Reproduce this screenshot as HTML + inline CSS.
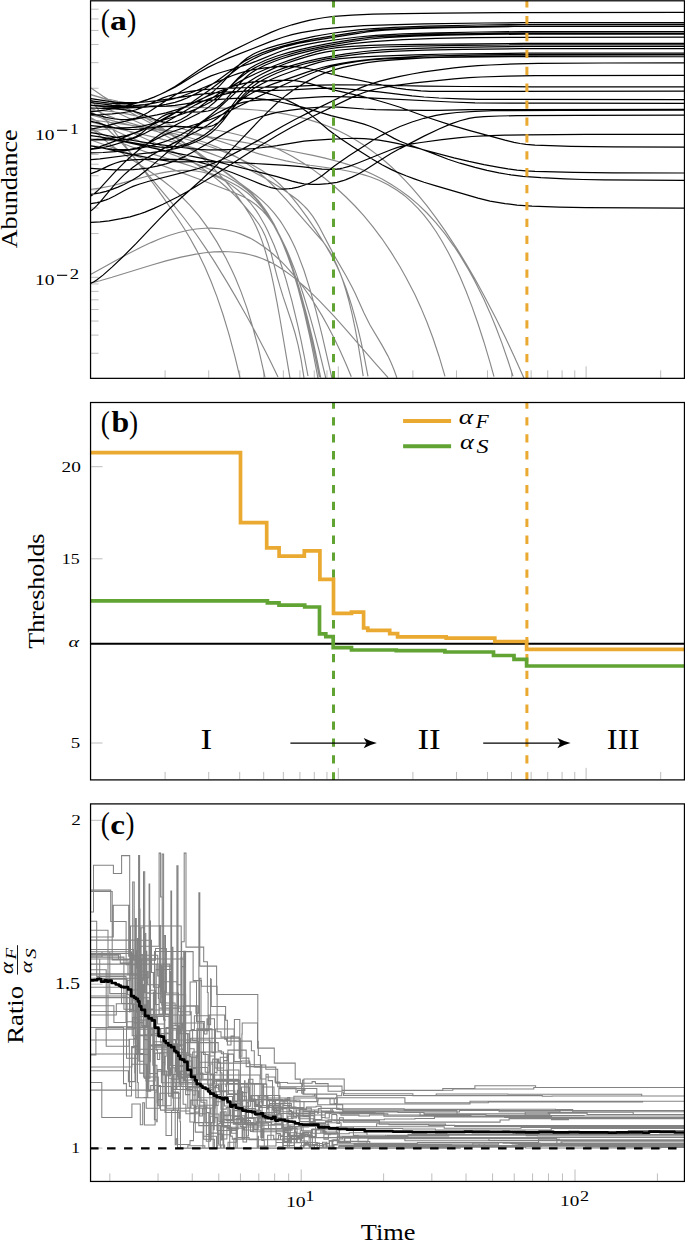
<!DOCTYPE html>
<html><head><meta charset="utf-8"><style>html,body{margin:0;padding:0;background:#fff;}svg{display:block;}</style></head>
<body><svg width="685" height="1241" viewBox="0 0 685 1241">
<rect width="685" height="1241" fill="#fff"/>
<g id="pa">
<path d="M91.15 132.00H98.55 M91.15 277.30H98.55 M91.15 353.27H98.55 M91.15 335.12H98.55 M91.15 321.04H98.55 M91.15 309.53H98.55 M91.15 299.81H98.55 M91.15 291.38H98.55 M91.15 283.95H98.55 M91.15 233.56H98.55 M91.15 207.97H98.55 M91.15 189.82H98.55 M91.15 175.74H98.55 M91.15 164.23H98.55 M91.15 154.51H98.55 M91.15 146.08H98.55 M91.15 138.65H98.55 M91.15 88.26H98.55 M91.15 62.67H98.55 M91.15 44.52H98.55 M91.15 30.44H98.55 M91.15 18.93H98.55 M91.15 9.21H98.55" stroke="#b5b5b5" stroke-width="0.9" fill="none"/>
<path d="M165.10 377.75V370.35 M208.73 377.75V370.35 M239.69 377.75V370.35 M263.70 377.75V370.35 M283.33 377.75V370.35 M299.92 377.75V370.35 M314.29 377.75V370.35 M326.96 377.75V370.35 M338.30 377.75V366.35 M412.90 377.75V370.35 M456.53 377.75V370.35 M487.49 377.75V370.35 M511.50 377.75V370.35 M531.13 377.75V370.35 M547.72 377.75V370.35 M562.09 377.75V370.35 M574.76 377.75V370.35 M586.10 377.75V366.35 M660.70 377.75V370.35" stroke="#b5b5b5" stroke-width="0.9" fill="none"/>
<clipPath id="ca"><rect x="90.5" y="0.8" width="593.9" height="377.6"/></clipPath>
<g clip-path="url(#ca)">
<path d="M91.0 117.9L94.0 119.5 100.0 123.3 103.0 125.5 109.0 130.5 118.0 139.2 124.0 145.7 130.0 152.7 136.0 160.1 145.0 172.0 163.0 197.1 178.0 219.0 184.0 228.3 190.0 238.3 196.0 249.1 199.0 254.8 205.0 267.3 211.0 281.2 217.0 296.9 223.0 314.5 229.0 334.4 235.0 356.8 240.0 377.6 M91.0 127.6L100.0 136.0 106.0 141.1 112.0 145.8 124.0 154.3 154.0 174.2 163.0 180.8 172.0 187.9 181.0 196.0 190.0 205.3 199.0 215.9 208.0 228.1 217.0 242.1 226.0 258.3 232.0 270.4 235.0 277.0 241.0 291.6 247.0 308.4 253.0 328.0 259.0 350.9 265.0 377.4 M91.0 99.7L109.0 124.4 127.0 148.2 145.0 170.9 172.0 203.1 184.0 218.0 196.0 234.0 205.0 247.1 214.0 260.9 226.0 280.4 235.0 295.6 247.0 316.7 256.0 333.2 265.0 350.4 271.0 362.4 278.0 377.1 M91.0 111.9L103.0 118.8 115.0 124.9 127.0 130.5 160.0 145.2 175.0 152.4 187.0 158.8 199.0 166.1 208.0 172.3 214.0 176.9 220.0 181.8 226.0 187.0 235.0 195.7 241.0 202.0 247.0 208.8 253.0 216.1 259.0 224.2 262.0 229.2 265.0 235.4 268.0 243.2 271.0 253.1 277.0 276.1 280.0 286.7 283.0 296.4 292.0 323.3 295.0 333.0 298.0 344.6 301.0 359.2 304.0 377.8 M91.0 102.0L121.0 114.5 145.0 125.4 157.0 131.2 169.0 137.4 181.0 143.9 190.0 149.1 202.0 156.4 214.0 164.1 223.0 170.3 232.0 176.8 241.0 183.9 247.0 189.0 253.0 194.7 259.0 201.4 265.0 209.3 268.0 213.8 274.0 224.1 277.0 230.0 283.0 243.5 286.0 251.1 292.0 268.2 298.0 288.2 304.0 311.2 310.0 337.6 313.0 352.1 318.0 378.4 M91.0 117.7L100.0 122.8 109.0 127.5 118.0 131.9 130.0 137.4 151.0 146.1 199.0 164.8 214.0 171.1 226.0 176.6 235.0 181.5 241.0 185.4 247.0 190.1 250.0 192.7 256.0 198.8 262.0 206.2 265.0 210.3 271.0 219.8 274.0 225.2 280.0 237.2 283.0 244.0 289.0 259.2 295.0 276.7 298.0 286.4 304.0 307.9 310.0 332.4 313.0 345.8 319.4 377.1 M91.0 127.8L100.0 132.9 109.0 137.4 118.0 141.5 130.0 146.3 148.0 152.6 181.0 162.9 196.0 167.8 208.0 172.2 220.0 177.1 232.0 182.9 238.0 186.2 241.0 188.2 247.0 192.5 250.0 195.0 256.0 200.8 262.0 207.7 265.0 211.6 271.0 220.6 274.0 225.7 280.0 237.2 283.0 243.6 289.0 258.1 292.0 266.2 298.0 284.1 301.0 294.1 307.0 316.1 313.0 341.0 316.0 354.7 320.7 377.7 M91.0 140.0L130.0 153.8 166.0 166.9 202.0 180.3 235.0 193.0 244.0 197.1 250.0 200.5 256.0 204.8 262.0 210.2 265.0 213.5 268.0 217.1 271.0 221.1 274.0 225.6 277.0 230.5 280.0 236.0 286.0 248.3 289.0 255.2 295.0 270.4 301.0 287.5 304.0 296.8 310.0 316.7 313.0 327.4 319.0 350.1 326.0 379.0 M91.0 94.9L100.0 97.4 109.0 100.5 118.0 104.1 127.0 108.2 136.0 112.7 145.0 117.6 154.0 122.9 166.0 130.4 181.0 140.5 196.0 151.0 250.0 190.5 256.0 195.2 262.0 200.4 268.0 206.2 274.0 212.9 280.0 220.7 283.0 225.2 289.0 235.4 292.0 241.2 295.0 247.6 298.0 254.6 304.0 270.5 310.0 289.3 316.0 310.9 322.0 334.8 332.0 378.4 M91.0 274.2L124.0 255.9 142.0 246.8 151.0 242.6 160.0 238.8 169.0 235.5 178.0 232.7 187.0 230.5 196.0 229.0 205.0 228.3 211.0 228.2 220.0 228.8 226.0 229.8 235.0 232.0 241.0 234.1 250.0 238.1 256.0 241.5 265.0 247.5 271.0 252.2 280.0 260.2 286.0 266.3 295.0 276.5 301.0 284.0 310.0 296.5 316.0 305.7 322.0 315.6 328.0 326.4 334.0 338.0 340.0 350.5 346.0 364.0 351.3 376.8 M91.0 282.9L100.0 280.7 112.0 277.3 151.0 265.3 166.0 260.9 181.0 257.1 196.0 254.1 205.0 252.8 214.0 251.9 223.0 251.6 229.0 251.7 238.0 252.5 244.0 253.4 250.0 254.7 256.0 256.4 262.0 258.5 268.0 261.1 274.0 264.1 280.0 267.7 286.0 271.7 292.0 276.1 298.0 280.9 307.0 288.7 319.0 300.3 334.0 316.2 346.0 329.6 376.0 364.1 388.1 377.7 M91.0 108.0L97.0 111.0 106.0 114.9 115.0 118.3 124.0 121.3 133.0 123.9 142.0 126.2 175.0 133.9 190.0 137.8 205.0 142.5 217.0 147.1 226.0 151.3 232.0 154.4 238.0 157.8 244.0 161.6 253.0 167.9 259.0 172.7 265.0 177.8 271.0 183.5 277.0 189.6 286.0 199.4 322.0 240.5 325.0 244.4 328.0 248.7 331.0 253.5 334.0 259.1 337.0 265.4 340.0 272.7 343.0 281.0 346.0 290.5 349.0 301.3 352.0 313.7 355.0 327.8 358.0 343.7 361.0 361.6 363.2 376.2 M91.0 115.0L115.0 121.4 160.0 132.2 178.0 136.8 196.0 142.0 214.0 148.0 226.0 152.6 235.0 156.5 247.0 162.2 256.0 166.9 262.0 170.5 268.0 174.5 274.0 179.1 280.0 184.5 286.0 190.6 292.0 197.4 298.0 204.9 307.0 217.2 316.0 230.4 325.0 244.5 331.0 254.7 337.0 266.5 340.0 273.1 343.0 280.4 346.0 288.3 349.0 297.1 352.0 306.7 355.0 317.3 358.0 328.9 361.0 341.7 364.0 355.6 368.0 376.3 M91.0 122.0L112.0 127.3 157.0 137.9 175.0 142.6 187.0 145.9 199.0 149.6 211.0 153.6 220.0 157.0 232.0 161.8 241.0 165.8 253.0 171.7 262.0 176.5 271.0 181.7 280.0 187.4 292.0 195.7 298.0 200.3 304.0 205.8 307.0 209.0 310.0 212.7 313.0 216.7 316.0 221.4 319.0 226.5 334.0 255.1 346.0 275.7 352.0 286.9 355.0 293.1 364.0 313.0 370.0 325.0 382.0 345.1 388.0 356.1 391.0 362.6 394.0 369.8 396.9 377.8 M91.0 130.4L118.0 128.4 136.0 127.2 151.0 126.6 166.0 126.4 181.0 126.7 193.0 127.4 208.0 129.0 220.0 130.8 232.0 133.2 244.0 136.3 256.0 140.1 268.0 144.7 280.0 150.0 292.0 156.3 304.0 163.5 313.0 169.6 325.0 178.5 334.0 186.0 346.0 197.0 355.0 206.0 364.0 215.9 373.0 226.8 382.0 238.8 391.0 252.1 400.0 266.7 406.0 277.4 415.0 294.8 421.0 307.9 427.0 322.3 433.0 338.3 439.0 356.2 445.0 376.3 M91.0 110.0L103.0 110.7 115.0 112.0 127.0 113.9 142.0 117.1 157.0 121.0 175.0 126.3 193.0 132.1 244.0 149.2 259.0 153.9 274.0 158.0 286.0 160.9 298.0 163.3 310.0 165.3 340.0 169.5 349.0 171.2 358.0 173.2 364.0 174.9 370.0 176.8 379.0 180.3 388.0 184.7 397.0 190.2 403.0 194.5 406.0 196.9 412.0 202.3 418.0 208.3 424.0 215.2 430.0 222.9 436.0 231.5 442.0 241.2 448.0 251.9 454.0 263.7 460.0 276.7 466.0 291.0 472.0 306.6 478.0 323.7 484.0 342.2 490.0 362.3 494.0 376.7 M91.0 119.8L157.0 128.9 214.0 137.5 241.0 141.9 265.0 146.1 292.0 151.2 313.0 155.4 325.0 158.1 337.0 161.2 346.0 163.9 355.0 166.9 364.0 170.4 373.0 174.4 382.0 179.0 391.0 184.2 400.0 190.1 409.0 196.8 418.0 204.4 427.0 213.0 436.0 222.8 445.0 233.8 454.0 246.3 460.0 255.4 469.0 270.4 475.0 281.4 484.0 299.5 490.0 312.9 496.0 327.5 502.0 343.4 508.0 360.7 513.0 376.3 M91.0 94.6L103.0 98.0 118.0 101.2 130.0 103.2 145.0 105.0 157.0 106.0 172.0 106.8 223.0 108.1 244.0 109.1 256.0 110.0 265.0 110.9 277.0 112.6 286.0 114.1 298.0 116.7 307.0 119.1 319.0 122.9 328.0 126.3 337.0 130.1 346.0 134.6 355.0 139.6 364.0 145.3 370.0 149.5 376.0 153.9 385.0 161.2 391.0 166.5 397.0 172.2 406.0 181.4 412.0 187.9 418.0 194.8 427.0 205.9 436.0 217.8 445.0 230.6 457.0 248.8 466.0 263.5 475.0 279.0 484.0 295.4 496.0 318.5 505.0 336.8 514.0 356.0 524.0 378.2 M91.0 189.3L100.0 188.1 112.0 185.7 121.0 183.4 148.0 176.0 157.0 173.9 163.0 172.6 169.0 171.6 175.0 170.9 181.0 170.4 187.0 170.3 196.0 171.0 202.0 172.0 208.0 173.5 214.0 175.6 220.0 178.2 226.0 181.6 232.0 185.6 238.0 190.3 244.0 195.9 250.0 202.5 256.0 210.4 259.0 215.0 265.0 225.4 268.0 231.4 274.0 245.0 277.0 252.7 283.0 270.0 286.0 279.7 292.0 301.4 298.0 326.4 301.0 340.2 304.0 354.9 308.0 376.0 M91.0 88.0L103.0 96.2 115.0 103.6 127.0 110.4 154.0 124.9 169.0 133.6 181.0 141.4 193.0 150.1 202.0 157.5 208.0 163.0 214.0 168.8 220.0 175.1 226.0 181.9 232.0 189.3 238.0 197.2 244.0 205.7 250.0 215.0 253.0 220.2 256.0 226.2 259.0 233.0 262.0 240.9 265.0 250.0 268.0 260.5 271.0 272.7 274.0 286.7 277.0 302.3 280.0 319.0 290.0 378.2" stroke="#888" stroke-width="1.15" fill="none"/>
<path d="M91.0 111.6L97.0 111.1 106.0 109.9 115.0 108.3 124.0 106.3 133.0 104.1 139.0 102.3 148.0 99.3 154.0 97.0 160.0 94.5 166.0 91.6 175.0 86.6 181.0 82.6 199.0 69.9 208.0 64.2 217.0 58.9 232.0 50.9 256.0 39.2 271.0 32.4 280.0 28.8 286.0 26.7 292.0 24.8 301.0 22.4 310.0 20.2 319.0 18.5 325.0 17.5 334.0 16.4 352.0 15.1 373.0 14.2 403.0 13.6 442.0 13.1 502.0 12.7 684.0 12.4 M91.0 100.8L109.0 103.1 118.0 103.7 124.0 103.8 130.0 103.6 136.0 102.8 139.0 102.3 145.0 100.6 154.0 97.2 169.0 90.3 175.0 87.2 181.0 83.8 199.0 72.5 208.0 67.4 217.0 63.0 229.0 57.9 271.0 41.4 283.0 37.2 292.0 34.7 301.0 32.7 313.0 30.6 322.0 29.2 340.0 27.3 364.0 25.7 388.0 24.8 424.0 23.9 484.0 23.0 523.0 22.7 684.0 22.6 M91.0 129.1L100.0 127.4 118.0 122.9 130.0 120.1 157.0 114.8 166.0 112.8 178.0 109.4 187.0 106.1 196.0 102.2 202.0 99.1 208.0 95.4 211.0 93.3 214.0 90.9 220.0 85.4 235.0 69.0 241.0 63.0 247.0 58.1 253.0 54.3 256.0 52.8 262.0 50.3 268.0 48.1 277.0 45.4 301.0 39.4 313.0 36.7 322.0 35.0 334.0 33.0 346.0 31.4 358.0 29.9 370.0 28.8 394.0 27.3 427.0 26.1 478.0 25.0 523.0 24.5 684.0 24.4 M91.0 105.4L109.0 107.1 118.0 107.6 127.0 107.8 136.0 107.7 145.0 107.2 157.0 105.9 166.0 104.4 175.0 102.4 181.0 100.4 187.0 98.0 196.0 93.6 205.0 88.7 211.0 85.1 217.0 81.1 235.0 67.7 244.0 61.6 247.0 59.9 253.0 56.7 262.0 52.9 271.0 49.6 280.0 46.8 289.0 44.4 301.0 41.6 313.0 39.2 325.0 37.1 349.0 33.3 361.0 31.5 376.0 29.9 394.0 28.8 424.0 27.6 457.0 26.9 496.0 26.3 529.0 26.0 684.0 26.0 M91.0 148.9L94.0 148.3 100.0 146.6 109.0 143.4 118.0 139.9 130.0 134.9 142.0 129.7 160.0 121.1 169.0 116.4 175.0 113.0 184.0 107.5 193.0 101.6 211.0 89.1 238.0 68.3 244.0 64.3 250.0 60.7 256.0 57.6 262.0 54.8 274.0 50.1 286.0 46.3 298.0 43.4 313.0 40.6 355.0 33.8 367.0 32.0 376.0 31.0 385.0 30.2 412.0 28.7 448.0 27.6 514.0 26.5 684.0 26.4 M91.0 113.4L106.0 117.4 115.0 119.0 121.0 119.5 127.0 119.5 133.0 118.7 136.0 118.0 139.0 117.0 142.0 115.7 148.0 112.5 169.0 98.8 181.0 91.6 193.0 84.6 202.0 79.9 211.0 75.9 220.0 72.7 241.0 66.5 250.0 63.6 259.0 60.1 277.0 52.7 283.0 50.5 289.0 48.6 298.0 46.3 307.0 44.4 319.0 42.2 334.0 40.0 358.0 37.0 376.0 35.3 403.0 33.9 436.0 32.8 481.0 32.0 523.0 31.6 684.0 31.5 M91.0 196.0L94.0 193.9 97.0 191.3 100.0 188.3 115.0 171.9 124.0 162.9 130.0 157.3 139.0 149.7 151.0 140.7 160.0 134.5 166.0 130.7 172.0 127.1 178.0 123.8 199.0 113.2 205.0 109.6 208.0 107.6 214.0 102.8 217.0 100.1 223.0 94.2 238.0 78.2 244.0 72.7 247.0 70.3 250.0 68.2 256.0 64.7 265.0 60.5 277.0 56.0 289.0 52.4 301.0 49.3 313.0 46.6 328.0 43.7 346.0 40.7 358.0 38.9 370.0 37.4 382.0 36.4 394.0 35.8 415.0 34.9 439.0 34.2 508.0 33.2 541.0 33.0 684.0 33.0 M91.0 125.6L106.0 127.1 115.0 127.7 127.0 127.8 136.0 127.1 142.0 126.2 151.0 124.0 178.0 115.5 187.0 112.5 196.0 109.1 205.0 105.0 211.0 101.7 214.0 99.7 220.0 95.3 226.0 90.1 238.0 79.4 244.0 74.7 247.0 72.5 253.0 68.8 259.0 65.7 265.0 62.9 274.0 59.4 283.0 56.3 292.0 53.6 301.0 51.2 310.0 49.1 322.0 46.6 337.0 43.8 352.0 41.4 370.0 39.0 385.0 37.7 415.0 36.1 445.0 35.1 487.0 34.5 526.0 34.1 684.0 34.1 M91.0 140.0L121.0 139.8 127.0 139.3 130.0 138.7 133.0 137.8 136.0 136.5 139.0 134.8 142.0 132.7 145.0 130.3 157.0 120.1 160.0 117.9 163.0 116.1 166.0 114.6 169.0 113.6 172.0 112.9 175.0 112.5 181.0 112.1 202.0 111.8 208.0 111.0 211.0 110.1 214.0 108.9 217.0 107.2 220.0 105.0 223.0 102.3 226.0 99.3 238.0 85.3 244.0 79.0 247.0 76.3 250.0 73.8 253.0 71.7 259.0 68.2 265.0 65.2 274.0 61.5 280.0 59.3 289.0 56.4 298.0 53.8 310.0 50.8 319.0 48.9 328.0 47.2 340.0 45.3 352.0 43.7 373.0 41.6 403.0 39.7 436.0 38.3 472.0 37.7 520.0 37.3 684.0 37.2 M91.0 108.0L103.0 108.3 112.0 108.7 121.0 109.4 127.0 110.1 133.0 111.2 139.0 112.9 157.0 120.2 163.0 121.9 166.0 122.4 169.0 122.6 172.0 122.4 175.0 121.8 178.0 120.8 181.0 119.5 187.0 116.1 208.0 100.7 217.0 94.8 226.0 89.4 241.0 80.9 247.0 77.8 256.0 73.5 265.0 69.5 277.0 64.7 289.0 60.4 307.0 54.3 316.0 51.7 322.0 50.2 328.0 49.0 337.0 47.7 352.0 46.4 370.0 45.4 388.0 44.8 418.0 44.3 523.0 43.4 684.0 43.4 M91.0 152.9L103.0 152.5 115.0 151.6 127.0 150.3 139.0 148.4 148.0 146.5 157.0 144.1 166.0 141.2 175.0 137.6 181.0 134.7 190.0 129.5 196.0 125.7 205.0 119.4 211.0 114.8 217.0 109.8 235.0 93.1 241.0 87.8 247.0 83.1 250.0 81.0 256.0 77.3 262.0 74.0 271.0 69.6 277.0 67.0 286.0 63.5 295.0 60.4 307.0 56.6 316.0 54.2 325.0 52.2 331.0 51.2 340.0 50.0 361.0 48.1 382.0 47.0 415.0 46.1 460.0 45.4 520.0 44.9 684.0 44.8 M91.0 135.6L100.0 136.8 148.0 145.3 160.0 147.1 166.0 147.4 172.0 147.2 178.0 146.4 184.0 144.8 190.0 142.5 199.0 138.1 205.0 134.5 211.0 130.0 214.0 127.4 220.0 121.0 226.0 113.5 238.0 97.6 244.0 90.7 247.0 87.8 250.0 85.2 253.0 82.9 259.0 79.0 265.0 75.8 274.0 71.8 283.0 68.4 295.0 64.6 307.0 61.4 319.0 58.6 331.0 56.3 346.0 53.9 364.0 51.5 382.0 49.9 409.0 48.6 442.0 47.7 490.0 46.9 526.0 46.5 684.0 46.5 M91.0 159.6L100.0 158.8 130.0 155.0 151.0 152.6 166.0 150.5 175.0 148.7 181.0 147.1 190.0 144.1 196.0 141.7 202.0 138.8 205.0 137.1 211.0 133.0 214.0 130.4 217.0 127.6 223.0 120.8 238.0 101.2 244.0 94.3 250.0 88.6 253.0 86.2 259.0 82.1 265.0 78.7 271.0 75.7 277.0 73.0 286.0 69.5 295.0 66.6 304.0 64.0 313.0 61.8 325.0 59.2 337.0 57.1 349.0 55.3 361.0 53.8 370.0 52.8 391.0 51.4 424.0 50.1 463.0 49.3 520.0 48.7 684.0 48.6 M91.0 121.3L97.0 122.7 109.0 126.4 115.0 127.8 121.0 128.9 127.0 129.5 133.0 129.5 139.0 129.2 157.0 127.2 166.0 126.4 172.0 126.3 178.0 126.4 196.0 127.3 202.0 127.4 208.0 126.9 211.0 126.2 214.0 125.0 217.0 123.4 220.0 121.4 223.0 118.8 226.0 115.9 241.0 99.4 247.0 93.7 253.0 89.1 256.0 87.1 262.0 83.8 271.0 79.5 280.0 75.8 295.0 70.2 310.0 65.1 319.0 62.4 325.0 61.0 331.0 59.9 340.0 58.7 358.0 57.2 379.0 56.1 415.0 54.8 448.0 54.0 526.0 53.2 684.0 53.2 M91.0 210.8L94.0 208.4 97.0 205.4 100.0 202.1 115.0 184.2 121.0 177.8 124.0 174.9 127.0 172.2 133.0 167.2 139.0 162.9 145.0 159.0 160.0 150.4 175.0 142.4 196.0 131.7 202.0 128.4 208.0 124.8 217.0 118.6 235.0 104.4 241.0 99.9 247.0 95.9 253.0 92.5 262.0 88.3 274.0 83.6 307.0 72.1 322.0 67.5 331.0 65.3 340.0 63.5 352.0 61.6 364.0 60.1 376.0 58.9 388.0 58.0 424.0 56.2 460.0 55.3 517.0 54.6 684.0 54.5 M91.0 283.2L94.0 281.7 97.0 279.8 103.0 275.1 112.0 267.1 124.0 255.7 136.0 243.7 160.0 218.4 169.0 209.3 181.0 198.0 202.0 179.3 214.0 167.8 259.0 120.7 268.0 111.6 277.0 103.0 286.0 95.4 292.0 91.0 298.0 87.0 307.0 81.6 313.0 78.4 319.0 75.5 325.0 72.9 334.0 69.9 343.0 67.4 355.0 64.8 367.0 62.7 379.0 61.2 391.0 60.1 409.0 58.8 424.0 57.9 454.0 56.9 514.0 56.1 684.0 56.0 M91.0 145.9L106.0 148.5 112.0 149.2 118.0 149.6 124.0 149.7 130.0 149.3 136.0 148.2 139.0 147.3 145.0 145.0 163.0 135.6 172.0 131.7 181.0 128.7 202.0 122.5 211.0 119.3 217.0 116.9 226.0 112.7 250.0 100.7 274.0 89.2 289.0 82.5 310.0 73.7 322.0 69.3 331.0 66.7 343.0 64.0 358.0 61.4 370.0 59.9 385.0 58.8 409.0 58.0 439.0 57.3 523.0 56.6 684.0 56.6 M91.0 203.7L97.0 202.7 100.0 201.9 106.0 199.9 109.0 198.7 115.0 195.8 124.0 190.8 130.0 187.8 133.0 186.4 139.0 184.2 148.0 181.5 196.0 169.2 208.0 165.4 217.0 161.9 226.0 157.8 241.0 149.9 256.0 141.6 283.0 126.0 295.0 119.5 310.0 111.9 349.0 93.0 361.0 87.6 370.0 84.2 379.0 81.4 391.0 78.3 400.0 76.3 412.0 74.0 424.0 71.9 439.0 69.8 454.0 67.9 466.0 66.6 478.0 65.7 490.0 65.0 517.0 63.8 538.0 63.3 604.0 63.0 684.0 62.9 M91.0 222.4L100.0 221.9 109.0 220.8 121.0 218.7 130.0 216.8 139.0 214.2 145.0 212.1 154.0 208.4 163.0 204.3 178.0 196.8 187.0 191.8 196.0 186.5 217.0 173.5 244.0 155.9 259.0 146.4 277.0 135.5 292.0 127.0 313.0 116.2 352.0 97.4 358.0 94.8 364.0 92.5 370.0 90.6 376.0 89.0 385.0 87.1 394.0 85.6 415.0 82.9 454.0 78.8 469.0 77.6 481.0 77.0 508.0 76.1 535.0 75.6 684.0 75.4 M91.0 114.9L103.0 114.5 112.0 113.9 121.0 113.0 130.0 111.5 136.0 109.8 142.0 107.6 157.0 100.5 163.0 97.9 169.0 95.8 175.0 94.2 187.0 91.8 199.0 90.1 211.0 89.0 223.0 88.3 247.0 87.5 289.0 86.6 319.0 85.2 337.0 84.8 376.0 85.0 424.0 86.2 463.0 86.5 532.0 86.8 684.0 86.9 M91.0 102.6L112.0 105.1 121.0 105.7 127.0 105.8 133.0 105.7 139.0 105.3 145.0 104.6 154.0 103.2 169.0 100.0 175.0 98.4 181.0 96.5 193.0 92.0 232.0 75.8 238.0 73.6 244.0 71.8 253.0 69.7 265.0 67.9 277.0 66.7 286.0 66.3 295.0 66.6 301.0 67.3 307.0 68.3 313.0 69.5 340.0 76.1 391.0 87.0 397.0 88.1 406.0 89.4 421.0 90.9 430.0 91.3 442.0 91.4 684.0 91.1 M91.0 98.7L109.0 101.3 118.0 102.3 127.0 102.7 136.0 102.6 145.0 102.0 157.0 100.7 175.0 98.2 199.0 94.4 214.0 92.8 226.0 92.0 241.0 91.3 286.0 90.1 319.0 88.4 331.0 88.2 343.0 88.6 358.0 89.8 379.0 91.9 412.0 95.9 424.0 97.0 439.0 98.0 460.0 98.9 478.0 99.3 505.0 99.4 684.0 99.7 M91.0 194.3L97.0 193.4 100.0 192.9 106.0 191.3 112.0 189.4 118.0 187.1 124.0 184.5 133.0 179.8 139.0 176.0 148.0 169.1 193.0 129.8 199.0 125.0 205.0 120.6 211.0 116.8 217.0 113.3 223.0 110.1 229.0 107.3 235.0 104.8 241.0 102.9 244.0 102.1 250.0 101.0 256.0 100.4 262.0 99.9 289.0 98.8 316.0 97.1 325.0 96.7 334.0 96.6 346.0 96.8 364.0 97.6 451.0 102.0 475.0 102.9 547.0 103.2 684.0 103.3 M91.0 168.4L106.0 169.4 115.0 169.8 124.0 169.9 133.0 169.7 139.0 169.2 148.0 168.0 157.0 166.1 166.0 163.8 175.0 160.9 184.0 156.9 193.0 152.0 235.0 127.4 244.0 122.9 250.0 120.3 256.0 118.2 262.0 116.3 271.0 113.8 277.0 112.4 289.0 110.3 307.0 108.1 322.0 107.0 334.0 106.9 343.0 107.4 364.0 109.0 376.0 109.6 400.0 110.1 424.0 110.4 439.0 110.3 469.0 109.7 487.0 109.5 684.0 109.3 M91.0 173.6L97.0 171.4 109.0 165.6 115.0 163.2 121.0 161.4 127.0 160.3 136.0 159.6 151.0 159.4 172.0 159.3 184.0 159.7 190.0 160.4 199.0 162.1 208.0 164.5 217.0 167.3 232.0 172.5 262.0 184.6 268.0 186.7 271.0 187.6 277.0 188.8 280.0 189.0 283.0 189.1 289.0 188.7 292.0 188.3 298.0 187.1 304.0 185.3 310.0 183.0 316.0 179.8 322.0 175.7 334.0 166.3 340.0 161.9 349.0 155.7 373.0 140.3 382.0 135.1 388.0 132.0 400.0 126.5 412.0 122.0 424.0 118.3 436.0 115.4 445.0 113.8 457.0 112.5 475.0 111.3 493.0 110.6 562.0 110.3 684.0 110.1 M91.0 135.6L100.0 136.9 112.0 139.2 133.0 143.7 169.0 151.7 202.0 158.4 214.0 161.0 268.0 174.3 277.0 176.7 292.0 181.1 298.0 182.7 304.0 183.8 307.0 184.1 313.0 184.4 319.0 184.3 328.0 183.7 337.0 182.3 343.0 180.7 346.0 179.6 352.0 177.1 358.0 174.2 364.0 170.8 385.0 157.2 391.0 153.6 400.0 148.6 424.0 136.1 439.0 129.0 451.0 123.9 460.0 120.7 469.0 118.4 475.0 117.4 484.0 116.7 499.0 116.0 517.0 115.6 580.0 115.3 684.0 115.2 M91.0 145.8L100.0 147.4 121.0 152.1 151.0 158.3 160.0 159.9 169.0 161.1 175.0 161.6 181.0 161.8 211.0 161.5 226.0 162.0 265.0 164.1 286.0 165.4 301.0 166.7 322.0 169.1 331.0 169.5 337.0 169.1 340.0 168.6 343.0 168.0 349.0 166.4 358.0 163.0 391.0 149.7 397.0 147.6 403.0 145.9 412.0 143.9 421.0 142.5 442.0 139.7 460.0 137.6 472.0 136.5 484.0 135.9 505.0 135.2 526.0 134.8 586.0 134.4 684.0 134.3 M91.0 139.9L103.0 139.2 115.0 137.7 127.0 135.3 136.0 132.7 142.0 130.2 148.0 127.3 172.0 114.0 190.0 104.6 199.0 100.1 208.0 96.0 220.0 91.0 229.0 87.6 235.0 85.6 244.0 83.3 253.0 81.9 262.0 81.1 271.0 80.6 286.0 80.2 295.0 80.7 304.0 82.2 310.0 83.6 331.0 89.3 361.0 96.2 376.0 100.0 388.0 103.5 400.0 107.3 430.0 118.3 451.0 125.1 469.0 130.3 505.0 140.2 514.0 142.4 520.0 143.5 526.0 144.3 535.0 145.1 550.0 145.7 571.0 146.4 613.0 146.9 684.0 147.2 M91.0 132.7L100.0 134.1 130.0 140.0 154.0 143.8 190.0 148.5 199.0 149.3 208.0 149.8 217.0 149.9 229.0 149.7 244.0 149.2 253.0 148.6 268.0 147.0 277.0 145.7 298.0 142.1 304.0 141.2 313.0 140.3 328.0 139.3 346.0 138.5 355.0 138.4 364.0 138.7 370.0 139.1 379.0 140.2 388.0 141.6 397.0 143.4 415.0 147.5 454.0 157.8 469.0 161.4 484.0 164.6 499.0 167.4 508.0 168.9 517.0 170.1 526.0 170.8 535.0 171.3 574.0 172.4 613.0 172.8 684.0 173.0 M91.0 105.3L112.0 106.4 124.0 106.9 139.0 106.9 157.0 106.5 166.0 106.1 175.0 105.4 184.0 104.1 205.0 100.7 214.0 99.8 223.0 99.1 235.0 98.4 247.0 98.2 256.0 98.5 265.0 99.4 280.0 102.0 295.0 105.3 304.0 107.7 331.0 115.6 355.0 121.6 364.0 124.1 370.0 126.2 376.0 128.8 382.0 131.8 394.0 138.4 400.0 141.3 409.0 144.8 427.0 151.1 448.0 159.3 460.0 163.2 475.0 167.4 487.0 170.4 499.0 172.9 511.0 174.9 523.0 176.4 541.0 177.7 565.0 178.9 583.0 179.5 604.0 179.8 684.0 180.3 M91.0 149.4L100.0 148.2 106.0 146.9 112.0 145.4 124.0 141.8 130.0 139.7 136.0 137.4 145.0 133.3 160.0 125.4 172.0 118.7 190.0 108.0 196.0 104.6 202.0 101.6 211.0 98.1 217.0 96.2 223.0 94.6 229.0 93.2 235.0 92.1 241.0 91.3 247.0 90.9 253.0 91.0 256.0 91.2 259.0 91.6 265.0 92.7 271.0 94.3 277.0 96.2 283.0 98.5 289.0 101.1 295.0 104.0 298.0 105.6 301.0 107.5 307.0 111.7 313.0 116.6 328.0 129.5 334.0 134.1 340.0 138.3 352.0 146.2 373.0 159.5 382.0 164.8 391.0 169.4 397.0 172.1 406.0 175.8 415.0 179.1 424.0 182.2 436.0 185.9 478.0 198.2 490.0 201.1 505.0 203.6 517.0 205.1 532.0 206.2 559.0 207.1 586.0 207.7 684.0 208.1" stroke="#000" stroke-width="1.2" fill="none"/>
<path d="M333.5 0.8V378.35" stroke="#61A434" stroke-width="3.0" stroke-dasharray="8.3 8.6" stroke-dashoffset="1.7"/>
<path d="M526.9 0.8V378.35" stroke="#EAA930" stroke-width="3.0" stroke-dasharray="8.3 8.6" stroke-dashoffset="1.7"/>
</g>
<rect x="90.55" y="0.8" width="593.9000000000001" height="377.55" fill="none" stroke="#000" stroke-width="1.25"/>
</g>
<g id="pb">
<path d="M91.15 466.70H102.55 M91.15 558.80H102.55 M91.15 643.60H102.55 M91.15 743.00H102.55" stroke="#b5b5b5" stroke-width="0.9" fill="none"/>
<path d="M165.10 779.30V771.90 M208.73 779.30V771.90 M239.69 779.30V771.90 M263.70 779.30V771.90 M283.33 779.30V771.90 M299.92 779.30V771.90 M314.29 779.30V771.90 M326.96 779.30V771.90 M338.30 779.30V767.90 M412.90 779.30V771.90 M456.53 779.30V771.90 M487.49 779.30V771.90 M511.50 779.30V771.90 M531.13 779.30V771.90 M547.72 779.30V771.90 M562.09 779.30V771.90 M574.76 779.30V771.90 M586.10 779.30V767.90 M660.70 779.30V771.90" stroke="#b5b5b5" stroke-width="0.9" fill="none"/>
<clipPath id="cb"><rect x="90.5" y="402.5" width="593.9" height="377.4"/></clipPath>
<g clip-path="url(#cb)">
<path d="M333.5 402.5V779.9" stroke="#61A434" stroke-width="3.0" stroke-dasharray="8.3 8.6" stroke-dashoffset="2.1"/>
<path d="M526.9 402.5V779.9" stroke="#EAA930" stroke-width="3.0" stroke-dasharray="8.3 8.6" stroke-dashoffset="2.1"/>
<path d="M90.55 643.7H684.45" stroke="#000" stroke-width="1.9"/>
<path d="M90.5 452.6H240.5V522.7H266.7V547.9H279.1V556.1H304.3V550.9H319.9V579.4H333.5V613.3H351.5V612.1H363.6V628.0H367.8V630.3H389.7V633.6H397.6V636.8H446.2V638.1H494.8V641.5H526.6V649.4H684.45" stroke="#EAA930" stroke-width="3.7" fill="none" stroke-linejoin="miter"/>
<path d="M90.5 600.9H267.4V602.8H279.0V605.1H304.7V607.0H319.5V633.8H325.8V636.7H333.2V647.6H351.5V650.0H396.3V650.7H444.9V652.0H493.5V655.5H514.0V659.4H526.6V666.0H684.45" stroke="#61A434" stroke-width="3.7" fill="none" stroke-linejoin="miter"/>
</g>
<path d="M403.1 421.1H451.1" stroke="#EAA930" stroke-width="4.0"/>
<path d="M403.1 446.3H451.1" stroke="#61A434" stroke-width="4.0"/>
<path d="M290.4 743.1H368.9" stroke="#000" stroke-width="1.4"/>
<path d="M376.9 743.1Q370.9 741.6 363.7 738.0L366.59999999999997 743.1L363.7 748.2Q370.9 744.6 376.9 743.1Z" fill="#000"/>
<path d="M483.2 743.1H562.6" stroke="#000" stroke-width="1.4"/>
<path d="M570.6 743.1Q564.6 741.6 557.4 738.0L560.3000000000001 743.1L557.4 748.2Q564.6 744.6 570.6 743.1Z" fill="#000"/>
<rect x="90.55" y="402.5" width="593.9000000000001" height="377.4" fill="none" stroke="#000" stroke-width="1.25"/>
</g>
<g id="pc">
<path d="M91.15 820.30H102.55 M91.15 984.20H102.55 M91.15 1148.10H102.55" stroke="#b5b5b5" stroke-width="0.9" fill="none"/>
<path d="M109.82 1180.85V1173.45 M158.04 1180.85V1173.45 M192.24 1180.85V1173.45 M218.78 1180.85V1173.45 M240.46 1180.85V1173.45 M258.79 1180.85V1173.45 M274.67 1180.85V1173.45 M288.67 1180.85V1173.45 M301.20 1180.85V1169.45 M383.62 1180.85V1173.45 M431.84 1180.85V1173.45 M466.04 1180.85V1173.45 M492.58 1180.85V1173.45 M514.26 1180.85V1173.45 M532.59 1180.85V1173.45 M548.47 1180.85V1173.45 M562.47 1180.85V1173.45 M575.00 1180.85V1169.45 M657.42 1180.85V1173.45" stroke="#b5b5b5" stroke-width="0.9" fill="none"/>
<clipPath id="cc"><rect x="90.5" y="803.9" width="593.9" height="377.6"/></clipPath>
<g clip-path="url(#cc)">
<path d="M90.8 890.1H110.7V921.4H126.1V964.6H136.6V950.8H140.8V1000.0H141.1V927.7H144.6V951.2H146.8V1009.1H154.5V951.5H184.5V1074.1H191.4V1057.2H197.6V1029.8H215.0V1068.0H223.7V1060.6H227.9V1050.1H246.2V1066.6H260.9V1065.0H265.8V1069.2H277.7V1086.7H302.6V1080.1H303.9V1086.1H342.0V1090.4H442.8V1088.4H474.9V1085.7H535.6V1087.4H684.2 M90.8 937.0H113.3V905.3H128.7V956.1H140.5V946.2H159.1V853.1H160.6V896.9H162.3V981.7H176.8V984.8H181.6V941.7H184.2V853.1H186.0V947.1H203.7V961.7H207.4V992.4H208.1V1024.8H210.6V978.5H210.7V979.4H211.3V1006.5H225.6V1020.3H227.4V1044.9H231.0V1036.0H234.4V1019.4H239.8V1056.2H241.9V1034.1H242.2V1022.9H257.5V1048.1H274.3V1063.1H295.2V1079.1H300.3V1083.5H301.7V1093.3H303.9V1078.9H344.2V1093.7H412.9V1095.6H542.3V1096.2H552.1V1095.9H684.2 M90.8 939.9H138.7V1004.7H144.9V1017.3H157.4V1023.9H164.2V1064.9H165.2V1056.3H166.1V1027.6H172.4V1040.0H175.4V1071.8H177.7V1066.2H192.6V1051.9H223.5V1096.9H226.6V1083.6H262.1V1113.5H266.6V1095.7H267.3V1109.0H268.0V1105.0H280.4V1111.7H293.9V1096.2H312.4V1096.1H314.5V1094.2H315.9V1098.2H323.7V1098.0H334.2V1103.6H336.9V1104.1H337.3V1097.8H404.9V1102.8H488.3V1102.0H642.6V1101.3H684.2 M90.8 959.0H184.1V1080.9H187.8V1107.9H191.0V1100.1H206.9V1108.0H215.3V1085.5H219.0V1090.8H234.8V1100.9H245.2V1100.7H247.0V1110.1H259.7V1101.7H263.1V1105.7H279.0V1108.3H287.7V1097.5H289.8V1110.6H291.4V1117.9H296.4V1115.4H309.1V1112.1H317.5V1113.3H318.4V1108.4H338.6V1108.7H404.2V1109.6H499.1V1111.7H560.0V1110.4H684.2 M90.8 963.9H130.2V1010.3H135.7V1049.3H183.1V1104.2H185.9V1113.7H206.4V1134.4H209.0V1133.1H217.7V1143.6H218.8V1123.4H220.3V1112.0H224.2V1122.6H252.8V1131.7H287.4V1148.1H303.5V1145.1H309.4V1148.1H323.1V1148.1H328.2V1148.1H329.8V1148.1H330.9V1148.1H332.4V1141.5H332.8V1147.7H405.7V1147.1H488.5V1145.6H684.2 M90.8 975.0H138.8V1061.3H144.3V1078.2H150.0V1036.4H150.2V1049.4H154.4V1041.8H163.8V1040.0H164.3V935.6H165.5V1014.0H169.0V1065.4H189.2V1048.7H194.1V1108.7H194.2V1109.2H196.0V1055.6H198.1V1072.9H202.9V1079.3H238.5V1088.6H241.5V1120.9H248.5V1079.3H252.9V1084.2H263.6V1096.1H266.6V1095.5H267.9V1100.5H289.5V1100.1H296.0V1101.5H300.9V1101.6H317.7V1104.8H342.7V1111.5H397.9V1112.4H424.0V1113.8H548.2V1113.3H587.1V1114.5H684.2 M90.8 978.3H140.4V1010.0H150.8V1032.0H150.9V1015.1H162.7V986.7H162.8V966.1H171.6V1028.3H176.9V1029.2H183.0V1023.0H203.3V1030.6H208.7V1014.9H224.7V1039.3H226.6V1041.1H251.4V1050.7H254.3V1067.1H275.8V1083.1H280.0V1088.6H303.0V1094.1H336.7V1109.4H339.9V1109.7H343.0V1110.8H457.0V1114.0H525.3V1114.2H549.8V1116.0H684.2 M90.8 996.0H127.1V1027.6H138.1V1016.4H169.2V1048.9H183.0V1080.9H187.5V1075.4H197.3V1087.8H218.4V1089.6H218.5V1084.0H227.9V1069.9H238.9V1100.7H244.6V1080.8H245.0V1092.7H246.9V1083.3H252.3V1117.5H268.2V1114.0H274.2V1108.8H287.0V1123.8H287.9V1116.2H296.5V1110.0H321.4V1117.5H325.2V1113.2H339.3V1113.7H387.8V1115.0H471.0V1116.6H504.7V1117.5H684.2 M90.8 1015.0H116.3V1003.7H133.7V1038.2H135.8V1054.5H149.4V1073.5H156.9V1099.6H162.7V1062.5H165.0V1112.4H178.9V1118.3H180.1V1118.2H180.3V1071.1H183.3V1078.6H183.7V951.2H185.6V1094.6H190.0V1086.4H203.8V1139.3H214.4V1148.1H219.6V1148.1H221.0V1144.9H223.0V1119.6H244.5V1124.3H247.7V1125.1H274.3V1123.8H282.1V1127.1H284.2V1129.0H289.5V1126.5H328.1V1119.7H384.3V1118.9H415.0V1118.4H434.4V1116.9H551.5V1119.7H568.4V1118.6H684.2 M90.8 1027.5H123.5V1083.6H126.4V1096.0H131.5V1064.3H146.9V1091.1H150.7V1085.5H160.5V1110.1H177.5V1148.1H217.4V1144.9H224.6V1148.1H228.0V1142.3H236.2V1118.5H253.4V1117.8H281.7V1127.5H287.4V1126.3H290.3V1142.8H299.9V1142.4H317.2V1148.1H320.1V1147.8H339.2V1146.1H512.3V1145.1H518.7V1144.6H684.2 M90.8 1054.0H134.7V1072.8H135.5V918.6H136.3V1053.6H144.1V933.5H145.8V1080.9H155.2V1053.1H164.1V1074.7H166.0V1135.4H171.6V1110.4H173.4V1074.5H178.9V1086.4H189.9V1113.0H195.6V1112.1H198.8V1110.4H199.0V1106.8H206.3V1141.2H210.4V1116.3H213.6V1129.7H214.2V1091.8H227.1V1094.4H242.6V1108.4H255.6V1115.3H276.0V1142.4H289.3V1133.5H290.0V1128.9H301.0V1127.3H301.4V1130.7H303.1V1124.4H314.5V1123.0H319.1V1125.9H320.1V1125.5H322.7V1132.4H324.4V1125.2H324.8V1126.8H324.9V1134.1H336.3V1128.8H336.7V1126.7H376.6V1123.7H389.0V1124.6H428.8V1125.5H684.2 M90.8 1090.1H157.1V1105.7H171.1V1079.1H181.0V1060.9H192.4V1105.3H195.3V1132.1H202.9V1148.1H205.8V1148.1H220.4V1126.6H228.2V1129.1H238.0V1118.2H242.1V1138.7H244.7V1126.9H262.3V1113.9H272.0V1108.6H276.6V1117.7H277.9V1113.4H314.5V1110.2H314.7V1120.3H333.9V1120.6H379.4V1124.1H445.5V1125.3H454.7V1126.5H684.2 M90.8 997.6H138.1V1052.7H140.0V984.4H143.2V1026.5H146.8V993.2H161.9V994.8H185.7V1033.6H187.6V1052.9H189.8V1042.2H190.8V1038.3H240.4V1106.2H250.4V1101.4H255.1V1112.5H276.8V1112.8H279.2V1101.8H287.9V1105.8H288.9V1114.7H291.7V1112.5H293.9V1116.8H309.3V1122.8H341.1V1126.8H444.2V1128.3H521.0V1127.5H684.2 M90.8 1066.9H132.0V1047.6H133.8V1028.8H135.8V1097.7H154.7V1044.5H161.7V1075.0H169.6V971.3H170.7V1065.6H172.3V1029.7H172.4V1089.5H192.5V1095.0H195.7V1087.5H199.6V1062.3H220.6V1072.7H221.9V1124.8H223.1V1097.3H224.4V1105.9H227.9V1128.4H237.7V1122.6H245.2V1112.2H261.8V1140.5H263.9V1118.9H266.8V1099.7H269.4V1107.2H272.4V1101.6H274.7V1114.8H281.7V1127.9H288.3V1122.4H299.3V1109.1H303.0V1115.8H314.0V1125.9H319.6V1129.7H340.7V1128.4H402.7V1128.9H435.4V1130.0H551.2V1128.5H684.2 M90.8 1005.8H113.9V1022.4H126.5V1058.2H137.5V938.4H139.4V1047.1H139.8V1073.1H144.3V1034.6H146.2V1108.2H159.8V1093.2H180.0V1121.7H180.5V1148.1H182.1V1148.1H187.8V1145.8H204.8V1148.1H205.7V1148.1H210.2V1148.1H212.4V1148.1H241.2V1148.1H265.4V1147.3H265.9V1148.1H278.3V1146.8H283.2V1145.5H294.1V1133.6H294.1V1136.3H299.8V1134.3H304.2V1143.4H308.7V1146.0H313.3V1144.5H315.6V1144.4H317.6V1143.4H322.7V1145.2H323.6V1148.0H325.1V1143.6H329.1V1140.6H338.7V1143.3H417.4V1142.5H538.5V1139.3H559.5V1140.6H713.7V1141.5H684.2 M90.8 1055.0H95.9V1029.1H134.2V1022.6H143.6V1076.9H158.3V1105.7H162.9V1039.9H171.5V1074.5H208.1V1065.5H210.3V1089.4H213.6V1086.8H216.4V1080.2H234.3V1123.1H268.5V1128.6H286.8V1128.3H297.1V1133.2H308.7V1134.5H309.2V1134.9H312.0V1129.0H322.8V1127.2H323.3V1131.5H326.1V1133.9H339.2V1129.6H339.5V1138.9H342.6V1136.4H408.0V1134.3H513.1V1133.1H628.4V1130.5H684.2 M90.8 959.0H99.7V979.3H127.0V994.7H129.5V1012.0H129.9V955.3H136.8V968.3H140.7V954.6H142.3V1014.5H159.0V965.5H161.2V991.3H164.5V1033.1H172.9V1044.7H180.9V957.2H182.0V1049.3H183.5V1005.8H197.8V1041.6H198.6V1079.0H201.6V1052.4H205.2V1072.2H209.6V1056.0H214.6V1083.9H225.9V1086.5H226.8V1081.1H238.2V1124.4H250.4V1124.0H256.6V1121.5H258.6V1102.2H259.0V1121.7H283.6V1118.7H292.9V1113.1H298.6V1118.8H313.3V1126.0H315.6V1129.9H319.1V1126.6H323.8V1132.0H337.7V1142.1H350.5V1138.2H387.4V1136.0H448.8V1134.6H684.2 M90.8 940.2H151.5V972.4H153.4V987.2H160.0V969.4H170.9V891.0H171.6V1025.8H179.4V1083.9H221.4V1139.9H222.5V1134.8H230.4V1109.8H230.5V1136.1H232.3V1139.1H258.4V1135.8H258.4V1148.1H282.7V1138.3H297.2V1142.4H300.3V1139.7H301.6V1136.6H316.3V1129.7H320.8V1132.9H321.1V1130.0H323.9V1139.1H328.4V1134.7H330.2V1133.8H342.4V1133.7H349.2V1132.7H367.0V1135.2H511.9V1135.2H526.3V1135.6H537.4V1136.0H684.2 M90.8 953.4H131.7V1004.3H140.3V955.3H157.7V976.0H159.6V925.4H160.4V1002.8H165.9V1003.0H175.1V1025.2H178.5V1078.2H183.3V1077.0H192.7V1067.4H207.7V1084.4H208.8V1092.4H215.8V1094.2H216.0V1091.2H216.4V1105.5H218.1V1096.5H232.5V1116.8H240.2V1126.4H243.8V1130.0H276.4V1133.6H280.4V1138.9H280.5V1136.4H296.3V1137.8H300.3V1130.7H312.4V1133.3H339.1V1137.4H340.5V1137.4H496.4V1137.5H684.2 M90.8 957.1H123.9V1009.3H132.7V882.0H134.2V1023.0H138.6V909.0H140.0V1027.8H144.4V1039.6H149.2V1067.4H149.6V921.1H150.5V1045.5H150.6V1045.9H167.5V1069.1H168.5V1078.3H171.8V947.2H172.9V1092.1H178.5V1111.0H189.9V1122.0H194.3V1106.8H198.8V1125.6H229.7V1148.1H233.9V1138.3H235.8V1148.1H241.3V1148.1H241.3V1148.1H256.4V1148.1H258.3V1146.0H276.0V1130.1H292.1V1126.6H295.3V1131.9H296.9V1137.1H304.0V1148.1H317.0V1147.2H322.4V1144.2H326.4V1147.7H326.5V1146.1H332.0V1140.1H338.5V1141.0H339.9V1141.3H368.0V1138.6H556.6V1139.8H711.7V1139.0H684.2 M90.8 956.7H102.0V951.8H131.5V975.3H140.0V980.3H143.5V871.7H144.7V992.7H150.0V1018.8H156.0V969.6H161.6V997.5H164.5V1015.0H190.1V982.0H196.5V1021.4H204.3V1033.9H207.0V1018.7H214.5V1072.4H216.9V1073.2H217.0V1059.0H218.7V1063.1H250.1V1099.6H283.1V1142.4H283.3V1127.0H308.7V1125.1H326.9V1124.7H328.9V1127.3H353.4V1135.2H385.7V1138.6H488.9V1140.6H559.7V1140.5H684.2 M90.8 964.1H169.7V1023.2H181.7V1052.3H185.6V1088.5H188.1V1087.7H209.9V1139.8H211.2V1122.4H212.7V1059.1H217.6V1070.2H227.0V1054.1H233.5V1110.6H260.8V1137.7H262.9V1128.6H283.4V1134.7H284.6V1132.8H295.9V1134.0H296.3V1142.7H301.5V1148.1H323.4V1147.9H326.9V1148.1H354.1V1144.1H498.5V1142.5H510.7V1143.4H516.0V1143.8H561.0V1142.0H684.2 M90.8 1082.5H101.8V1117.5H131.9V1103.9H140.3V1124.8H142.7V1102.7H144.4V1124.9H155.1V1091.9H157.4V1086.5H197.6V1105.3H217.0V1130.5H237.3V1148.1H241.4V1148.1H244.5V1148.1H263.8V1148.1H265.0V1148.1H270.4V1148.1H274.0V1148.1H284.5V1148.1H291.5V1148.1H302.0V1148.1H312.3V1148.1H417.0V1146.3H422.0V1145.6H472.9V1142.6H503.1V1143.2H562.4V1143.5H684.2 M90.8 951.7H109.8V993.6H127.7V980.2H130.4V964.0H131.6V957.7H135.8V1004.9H136.6V1012.3H141.9V971.5H147.9V984.8H158.4V998.4H159.2V1013.9H164.8V1039.5H175.8V1061.1H176.9V1030.7H192.6V1041.0H196.9V1074.0H213.9V1117.6H217.5V1134.1H223.7V1115.0H229.3V1101.9H237.4V1090.3H238.7V1090.6H239.7V1115.7H244.6V1117.6H253.8V1128.9H258.2V1118.2H265.6V1122.5H271.7V1124.5H283.4V1130.5H288.3V1136.0H291.7V1139.4H297.6V1139.1H301.3V1140.9H307.3V1142.2H309.1V1137.6H344.3V1141.1H344.8V1138.3H404.9V1140.8H556.9V1143.6H650.1V1145.0H684.2 M90.8 987.2H121.5V1003.5H132.2V1035.8H162.5V1070.9H167.9V1075.9H170.5V1067.8H174.9V1082.4H199.7V1116.0H202.4V1108.8H206.5V1112.6H208.8V1148.1H214.6V1148.1H223.7V1127.3H237.4V1137.4H249.1V1139.7H271.0V1120.0H288.1V1135.3H312.4V1145.4H322.5V1142.3H326.9V1148.1H329.2V1148.1H329.5V1141.1H333.3V1139.7H339.1V1141.5H369.8V1146.3H386.2V1146.5H541.3V1144.6H585.4V1146.7H684.2 M90.8 973.8H138.6V1019.9H142.8V1027.5H150.6V1028.7H151.1V1034.3H154.6V963.9H156.2V1050.1H157.4V1059.5H159.7V1052.7H187.0V1090.7H198.6V1097.7H220.9V1109.1H226.3V1107.6H239.9V1117.3H243.0V1142.0H246.6V1118.0H255.2V1125.0H294.5V1148.1H316.6V1148.1H324.8V1148.1H460.2V1147.3H525.6V1147.9H660.7V1147.5H684.2 M90.8 955.1H118.5V959.5H141.6V1013.8H142.4V977.6H149.1V883.9H149.7V990.2H155.3V1004.5H159.2V1008.1H180.6V1015.5H185.2V1042.6H218.2V1050.8H221.3V1053.7H228.5V1093.7H238.0V1091.6H242.8V1096.2H246.5V1114.2H246.7V1120.6H250.5V1131.4H253.4V1123.8H258.1V1122.6H259.3V1117.5H260.0V1115.3H265.6V1119.2H269.0V1105.7H273.5V1111.1H280.2V1119.5H282.2V1128.8H284.3V1141.6H288.1V1138.4H302.7V1132.1H310.7V1148.1H319.0V1148.1H325.6V1148.1H326.3V1148.1H333.2V1148.1H333.6V1144.9H429.7V1147.2H433.5V1147.1H480.8V1146.3H537.2V1146.2H689.2V1146.5H684.2 M90.8 930.2H108.0V1026.8H132.5V1017.4H138.3V958.8H159.9V978.0H161.7V1005.2H176.8V1006.3H195.9V1013.1H198.9V892.7H199.8V966.1H216.6V994.5H257.8V1041.3H258.3V1055.4H260.4V1079.0H266.0V1077.0H275.1V1082.1H279.4V1082.5H287.5V1083.3H312.1V1081.6H315.1V1081.9H315.5V1083.6H328.1V1091.2H342.3V1090.2H452.8V1089.0H533.8V1087.4H562.8V1087.4H684.2 M90.8 1011.5H133.7V1043.3H134.0V1028.5H135.4V1010.3H141.3V1025.8H150.3V1027.8H152.7V1033.6H169.4V1007.2H172.8V1046.1H181.3V1032.4H181.4V1077.5H189.0V1056.6H191.2V1068.5H196.9V1028.7H212.0V1052.8H215.5V1029.0H234.1V1061.4H241.3V1060.9H249.7V1084.2H254.3V1106.5H262.1V1087.0H274.0V1095.2H274.2V1099.4H278.9V1088.0H296.0V1092.3H297.5V1090.5H304.9V1088.4H316.8V1101.0H318.1V1098.8H335.5V1097.8H337.0V1095.7H341.7V1092.7H343.5V1095.4H436.2V1094.0H507.7V1094.2H641.7V1095.9H684.2 M90.8 969.7H106.2V1046.2H129.1V1039.3H136.8V1034.9H152.8V1065.2H156.9V1102.7H157.6V1069.6H161.4V1082.7H175.2V1144.7H176.3V1138.7H177.6V1144.5H190.0V1140.6H193.5V1122.6H203.2V1136.3H216.5V1148.1H222.3V1148.1H224.6V1148.1H226.0V1148.1H258.4V1148.1H260.4V1146.7H267.6V1135.2H273.7V1139.0H278.5V1135.3H283.3V1147.2H300.4V1145.8H305.0V1144.0H309.8V1147.9H310.7V1144.7H314.5V1148.1H338.7V1146.4H479.1V1143.9H484.3V1145.8H517.9V1146.2H518.5V1143.1H540.1V1144.6H684.2 M90.8 954.1H120.3V962.9H130.5V925.9H181.2V966.6H184.8V951.6H193.1V980.6H201.4V986.3H217.1V1031.7H221.0V1037.0H239.2V1058.1H247.8V1058.1H248.9V1062.1H249.7V1064.8H261.7V1102.9H263.3V1083.8H266.0V1074.3H268.2V1080.6H272.5V1109.9H282.3V1108.2H311.3V1111.6H317.2V1112.3H343.2V1112.7H361.5V1112.1H375.1V1111.9H459.4V1110.4H684.2 M90.8 1070.8H128.4V1081.6H135.0V1045.8H137.5V1082.5H138.2V1097.7H144.2V1097.4H147.7V1000.3H148.8V1089.8H153.4V992.3H154.4V1119.7H156.7V1121.6H157.2V1071.3H166.4V1108.3H210.8V1114.0H218.9V1121.7H223.9V1111.8H226.1V1120.8H232.3V1107.8H233.3V1124.3H237.8V1101.0H241.6V1107.0H243.4V1109.1H245.1V1107.8H246.3V1102.8H248.4V1099.1H255.3V1104.5H258.0V1095.5H279.9V1103.9H284.8V1099.3H289.9V1101.8H304.0V1109.5H306.5V1106.9H316.1V1106.3H321.1V1108.3H339.2V1108.8H344.0V1109.2H555.5V1109.6H572.7V1111.7H684.2 M90.8 949.4H133.3V960.2H155.5V948.5H166.4V993.0H178.5V1011.7H191.2V1029.5H194.4V1015.7H209.3V1063.9H212.9V1094.5H220.2V1057.3H227.0V1079.5H227.6V1084.1H266.7V1100.7H275.6V1106.2H282.8V1105.6H291.4V1107.1H296.0V1115.0H317.8V1114.9H325.2V1117.9H329.3V1113.5H330.8V1108.6H332.3V1113.2H383.9V1116.3H495.4V1117.0H503.7V1115.4H525.2V1112.2H633.2V1114.5H684.2 M90.8 1040.0H129.4V1086.4H131.6V1046.6H139.4V1029.3H160.7V1042.9H168.5V1072.6H168.9V1047.9H171.8V1043.8H177.9V1077.0H186.7V1055.5H189.8V1030.5H203.5V1054.5H208.1V1085.8H212.2V1081.3H226.7V1103.6H241.5V1086.9H249.1V1101.1H256.2V1105.4H269.6V1103.5H291.4V1108.4H299.9V1121.6H313.5V1122.8H314.8V1119.6H321.8V1110.9H333.5V1112.0H340.9V1115.1H359.0V1116.0H369.5V1114.9H424.2V1114.4H486.0V1115.5H584.1V1116.0H684.2 M90.8 921.2H96.7V976.5H126.0V1021.8H133.7V1019.0H139.3V1027.1H144.4V1025.5H148.6V1061.6H150.5V1021.0H154.1V1047.2H168.6V1096.1H171.7V1087.3H172.6V1098.0H180.5V1086.3H181.1V1054.2H191.1V1079.9H213.1V1148.1H223.4V1139.0H226.9V1128.0H231.6V1133.2H237.2V1128.1H241.9V1127.5H246.2V1111.1H257.2V1148.1H264.3V1139.8H289.1V1148.1H289.3V1142.9H291.4V1135.7H305.3V1134.5H307.5V1135.4H311.6V1129.6H315.3V1143.1H319.5V1148.1H334.0V1144.5H337.3V1136.2H358.1V1141.8H367.1V1143.3H406.8V1144.5H421.9V1145.1H451.6V1145.4H684.2 M90.8 997.7H150.2V1028.4H176.4V1089.1H176.9V1034.1H177.6V1015.0H179.8V1033.8H189.0V1074.6H195.6V1080.2H199.5V978.3H201.0V1102.2H205.0V1122.6H215.0V1101.7H223.2V1115.7H240.4V1122.3H241.0V1102.1H242.0V1092.6H246.2V1122.7H246.3V1136.0H248.5V1097.9H251.2V1095.6H259.2V1107.4H260.7V1107.5H303.0V1111.3H310.3V1123.0H313.4V1121.2H315.3V1123.6H325.5V1121.4H331.8V1114.4H336.6V1115.5H336.9V1123.5H339.5V1117.8H343.3V1122.1H500.1V1120.0H509.1V1118.6H684.2 M90.8 912H93.5V865.3H113.4V873.4H121.6V855.6H129.7V990H138V1020H150V1045H185V1080H240V1100H300V1112H420V1116H684.2 M90.8 891.4H112.2V960H128V975H146V1010H170V1040H210V1075H260V1098H330V1104H470V1101.3H684.2 M133 1000H138.6V855.5H139.6V1005H142 M158 1010H162.2V854H163.6V1020H166 M172 1030H176.9V865.7H178V1040H181" stroke="#828282" stroke-width="1.05" fill="none"/>
<path d="M90.55 1148.3H684.45" stroke="#000" stroke-width="2.2" stroke-dasharray="8.5 8.5" stroke-dashoffset="0.5"/>
<path d="M90.8 980.3H93.9V980.2H97.3V978.9H99.6V979.1H101.1V981.7H104.6V980.3H106.8V981.6H109.0V980.7H111.7V983.0H115.7V984.5H118.8V985.6H120.8V986.8H123.8V987.5H125.4V987.2H128.1V989.5H131.2V996.1H133.9V997.6H135.9V998.8H137.9V1001.4H139.4V1006.3H141.3V1009.8H145.0V1015.8H148.6V1018.4H151.9V1020.4H154.8V1027.7H158.5V1036.1H161.5V1036.7H163.9V1041.1H165.8V1043.1H168.3V1045.4H171.2V1047.2H174.3V1051.0H176.2V1052.5H178.3V1055.9H180.1V1059.2H182.1V1059.7H184.3V1061.8H187.5V1069.9H191.1V1076.8H194.9V1080.4H196.7V1084.2H200.6V1085.9H202.5V1087.7H205.6V1089.0H208.1V1091.3H210.2V1093.7H213.8V1095.6H216.7V1097.2H220.1V1098.2H222.5V1099.4H224.3V1098.2H227.5V1101.6H230.3V1106.6H232.6V1105.1H235.9V1107.8H238.6V1108.4H242.4V1110.6H246.3V1111.3H249.6V1111.3H251.5V1112.1H255.0V1114.1H258.1V1114.0H260.9V1113.3H262.9V1116.2H265.3V1117.3H267.7V1117.8H270.6V1118.6H272.8V1116.9H275.4V1120.6H278.2V1119.7H282.0V1119.9H284.9V1121.0H288.6V1121.5H292.4V1121.8H295.0V1123.4H298.9V1124.3H302.4V1124.6H318.4V1127.4H329.1V1128.4H337.9V1129.0H346.9V1129.7H364.7V1131.2H377.4V1131.2H392.6V1131.6H412.1V1132.1H426.9V1132.0H435.4V1132.1H447.2V1132.0H464.6V1131.7H472.2V1131.9H489.4V1132.0H502.7V1131.9H509.4V1132.0H515.7V1132.1H525.2V1132.3H539.1V1131.9H553.4V1132.4H568.9V1132.1H579.2V1132.4H592.7V1132.4H608.0V1132.6H616.6V1132.4H623.2V1132.4H642.6V1132.6H649.3V1131.7H659.8V1131.9H674.6V1132.5H684.2V1131.6" stroke="#000" stroke-width="2.7" fill="none" stroke-linejoin="round"/>
</g>
<rect x="90.55" y="803.9" width="593.9000000000001" height="377.55000000000007" fill="none" stroke="#000" stroke-width="1.25"/>
</g>
<text x="100.70" y="31.26" font-family="'Liberation Serif', serif" font-size="31.65" textLength="9.08" lengthAdjust="spacingAndGlyphs">(</text>
<text x="110.11" y="30.42" font-family="'Liberation Serif', serif" font-size="28.18" font-weight="bold" textLength="16.90" lengthAdjust="spacingAndGlyphs">a</text>
<text x="126.90" y="31.26" font-family="'Liberation Serif', serif" font-size="31.65" textLength="9.34" lengthAdjust="spacingAndGlyphs">)</text>
<text x="100.70" y="433.07" font-family="'Liberation Serif', serif" font-size="32.09" textLength="9.08" lengthAdjust="spacingAndGlyphs">(</text>
<text x="111.40" y="432.42" font-family="'Liberation Serif', serif" font-size="28.42" font-weight="bold" textLength="17.69" lengthAdjust="spacingAndGlyphs">b</text>
<text x="129.12" y="433.07" font-family="'Liberation Serif', serif" font-size="32.09" textLength="9.08" lengthAdjust="spacingAndGlyphs">)</text>
<text x="100.70" y="834.33" font-family="'Liberation Serif', serif" font-size="30.88" textLength="9.08" lengthAdjust="spacingAndGlyphs">(</text>
<text x="110.26" y="833.85" font-family="'Liberation Serif', serif" font-size="27.27" font-weight="bold" textLength="14.77" lengthAdjust="spacingAndGlyphs">c</text>
<text x="125.53" y="834.33" font-family="'Liberation Serif', serif" font-size="30.88" textLength="8.95" lengthAdjust="spacingAndGlyphs">)</text>
<text transform="translate(16.98 248.26) rotate(-90)" x="0" y="0" font-family="'Liberation Serif', serif" font-size="23.02" textLength="118.96" lengthAdjust="spacingAndGlyphs">Abundance</text>
<text transform="translate(43.57 648.67) rotate(-90)" x="0" y="0" font-family="'Liberation Serif', serif" font-size="23.31" textLength="115.10" lengthAdjust="spacingAndGlyphs">Thresholds</text>
<text transform="translate(23.37 1043.77) rotate(-90)" x="0" y="0" font-family="'Liberation Serif', serif" font-size="23.37" textLength="57.89" lengthAdjust="spacingAndGlyphs">Ratio</text>
<path d="M17.5 945.2V974.6" stroke="#000" stroke-width="0.9"/>
<text transform="translate(12.72 974.08) rotate(-90)" x="0" y="0" font-family="'Liberation Serif', serif" font-size="17.84" font-style="italic" textLength="11.90" lengthAdjust="spacingAndGlyphs">α</text>
<text transform="translate(15.90 959.50) rotate(-90)" x="0" y="0" font-family="'Liberation Serif', serif" font-size="14.97" font-style="italic" textLength="11.64" lengthAdjust="spacingAndGlyphs">F</text>
<text transform="translate(32.03 973.18) rotate(-90)" x="0" y="0" font-family="'Liberation Serif', serif" font-size="16.60" font-style="italic" textLength="12.00" lengthAdjust="spacingAndGlyphs">α</text>
<text transform="translate(36.05 958.64) rotate(-90)" x="0" y="0" font-family="'Liberation Serif', serif" font-size="15.48" font-style="italic" textLength="10.38" lengthAdjust="spacingAndGlyphs">S</text>
<text x="360.73" y="1240.38" font-family="'Liberation Serif', serif" font-size="22.47" textLength="54.67" lengthAdjust="spacingAndGlyphs">Time</text>
<text x="35.09" y="139.86" font-family="'Liberation Serif', serif" font-size="14.82" textLength="19.45" lengthAdjust="spacingAndGlyphs">10</text>
<rect x="57" y="129.75" width="10.20" height="1.1" fill="#000"/>
<text x="70.08" y="134.00" font-family="'Liberation Serif', serif" font-size="14.39" textLength="8.66" lengthAdjust="spacingAndGlyphs">1</text>
<text x="35.09" y="284.86" font-family="'Liberation Serif', serif" font-size="14.67" textLength="19.45" lengthAdjust="spacingAndGlyphs">10</text>
<rect x="57" y="274.75" width="10.20" height="1.1" fill="#000"/>
<text x="69.88" y="279.00" font-family="'Liberation Serif', serif" font-size="13.89" textLength="9.35" lengthAdjust="spacingAndGlyphs">2</text>
<text x="61.55" y="471.76" font-family="'Liberation Serif', serif" font-size="14.67" textLength="19.28" lengthAdjust="spacingAndGlyphs">20</text>
<text x="61.83" y="563.75" font-family="'Liberation Serif', serif" font-size="14.93" textLength="17.87" lengthAdjust="spacingAndGlyphs">15</text>
<text x="68.40" y="646.96" font-family="'Liberation Serif', serif" font-size="14.11" font-style="italic" textLength="10.57" lengthAdjust="spacingAndGlyphs">α</text>
<text x="70.80" y="747.85" font-family="'Liberation Serif', serif" font-size="15.20" textLength="9.43" lengthAdjust="spacingAndGlyphs">5</text>
<text x="71.16" y="824.70" font-family="'Liberation Serif', serif" font-size="14.20" textLength="9.60" lengthAdjust="spacingAndGlyphs">2</text>
<text x="54.94" y="989.38" font-family="'Liberation Serif', serif" font-size="15.72" textLength="25.04" lengthAdjust="spacingAndGlyphs">1.5</text>
<text x="71.38" y="1153.30" font-family="'Liberation Serif', serif" font-size="14.84" textLength="8.66" lengthAdjust="spacingAndGlyphs">1</text>
<text x="285.96" y="1206.56" font-family="'Liberation Serif', serif" font-size="14.67" textLength="19.79" lengthAdjust="spacingAndGlyphs">10</text>
<text x="305.38" y="1201.00" font-family="'Liberation Serif', serif" font-size="15.15" textLength="9.23" lengthAdjust="spacingAndGlyphs">1</text>
<text x="560.12" y="1206.35" font-family="'Liberation Serif', serif" font-size="15.12" textLength="19.11" lengthAdjust="spacingAndGlyphs">10</text>
<text x="579.90" y="1200.50" font-family="'Liberation Serif', serif" font-size="14.05" textLength="9.10" lengthAdjust="spacingAndGlyphs">2</text>
<text x="458.89" y="423.88" font-family="'Liberation Serif', serif" font-size="21.37" font-style="italic" textLength="14.36" lengthAdjust="spacingAndGlyphs">α</text>
<text x="475.81" y="427.90" font-family="'Liberation Serif', serif" font-size="18.33" font-style="italic" textLength="12.91" lengthAdjust="spacingAndGlyphs">F</text>
<text x="460.01" y="448.99" font-family="'Liberation Serif', serif" font-size="20.75" font-style="italic" textLength="13.85" lengthAdjust="spacingAndGlyphs">α</text>
<text x="476.62" y="452.82" font-family="'Liberation Serif', serif" font-size="18.31" font-style="italic" textLength="12.07" lengthAdjust="spacingAndGlyphs">S</text>
<text x="200.53" y="748.90" font-family="'Liberation Serif', serif" font-size="29.48" textLength="11.71" lengthAdjust="spacingAndGlyphs">I</text>
<text x="417.44" y="748.90" font-family="'Liberation Serif', serif" font-size="29.48" textLength="23.29" lengthAdjust="spacingAndGlyphs">II</text>
<text x="606.82" y="748.90" font-family="'Liberation Serif', serif" font-size="29.48" textLength="32.74" lengthAdjust="spacingAndGlyphs">III</text>
</svg></body></html>
